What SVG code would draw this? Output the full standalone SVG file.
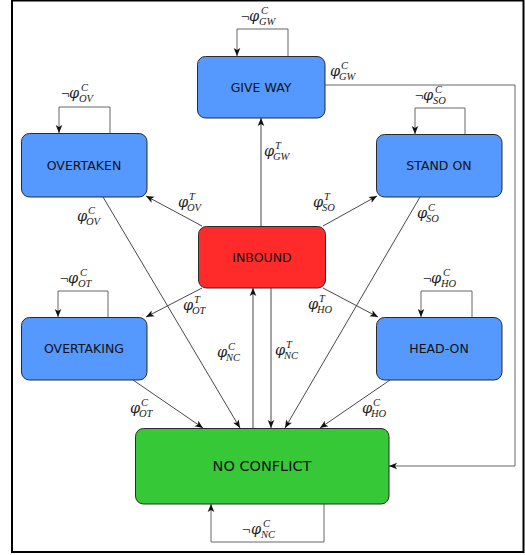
<svg xmlns="http://www.w3.org/2000/svg" width="525" height="555" viewBox="0 0 525 555">
  <defs>
    <marker id="arr" markerUnits="userSpaceOnUse" viewBox="-9 -5 10 10" markerWidth="10" markerHeight="10" refX="0" refY="0" orient="auto">
      <path d="M-8,-3.3 L0,0 L-8,3.3 L-6,0 Z" fill="#111"/>
    </marker>
    <style>
      .node rect { stroke: #2a2a2a; stroke-width: 1; }
      .blue { fill: #5599ff; }
      .red { fill: #ff2a2a; }
      .green { fill: #37c837; }
      .lbl { font-family: "DejaVu Sans", Verdana, sans-serif; font-size: 12.5px; fill: #111; text-anchor: middle; }
      .big { font-size: 14.5px; }
      .edge { fill: none; stroke: #333; stroke-width: 0.9; marker-end: url(#arr); }
      .loop { fill: none; stroke: #666; stroke-width: 1; marker-end: url(#arr); }
      .route { fill: none; stroke: #666; stroke-width: 1; marker-end: url(#arr); }
      .m { font-family: "Liberation Serif", "DejaVu Serif", serif; font-style: italic; font-size: 16px; fill: #222; }
      .phi { font-family: "DejaVu Serif", serif; font-size: 14.5px; }
      .s { font-size: 10.5px; }
      .neg { font-family: "Liberation Serif", serif; font-style: normal; font-size: 15px; }
    </style>
  </defs>

  <!-- frame -->
  <rect x="12" y="0.5" width="511.5" height="551.5" fill="#fff" stroke="#000" stroke-width="2"/>

  <g id="connectors">
    <!-- self loops -->
    <path class="loop" d="M288,56 V29 H237 V56"/>
    <path class="loop" d="M110,133 V107 H59 V133"/>
    <path class="loop" d="M465,134 V108 H415 V134"/>
    <path class="loop" d="M108,317 V291 H58 V317"/>
    <path class="loop" d="M472,317 V291 H421 V317"/>
    <path class="loop" d="M324,504 V542 H211 V504"/>
    <!-- give way back to no conflict -->
    <path class="route" d="M325,85 H515 V466 H389"/>
    <!-- transitions out of inbound -->
    <path class="edge" d="M261,226 V118"/>
    <path class="edge" d="M202,226 L146,196"/>
    <path class="edge" d="M323,226 L377,196"/>
    <path class="edge" d="M202,288 L146,317"/>
    <path class="edge" d="M323,288 L378,317"/>
    <path class="edge" d="M271,288 V428"/>
    <!-- transitions into no conflict -->
    <path class="edge" d="M103,197 L240,428"/>
    <path class="edge" d="M420,197 L285,428"/>
    <path class="edge" d="M133,380 L203,428"/>
    <path class="edge" d="M390,380 L320,428"/>
    <path class="edge" d="M253,428 V288"/>

    <!-- guard labels -->
    <text class="m" x="241" y="21"><tspan class="neg">¬</tspan><tspan class="phi" x="249">φ</tspan><tspan class="s" x="261" y="14">C</tspan><tspan class="s" x="259" y="25">GW</tspan></text>
    <text class="m" x="330" y="76"><tspan class="phi">φ</tspan><tspan class="s" x="341" y="69">C</tspan><tspan class="s" x="339" y="80">GW</tspan></text>
    <text class="m" x="61" y="98"><tspan class="neg">¬</tspan><tspan class="phi" x="69">φ</tspan><tspan class="s" x="81" y="91">C</tspan><tspan class="s" x="79" y="102">OV</tspan></text>
    <text class="m" x="415" y="100"><tspan class="neg">¬</tspan><tspan class="phi" x="423">φ</tspan><tspan class="s" x="435" y="93">C</tspan><tspan class="s" x="433" y="104">SO</tspan></text>
    <text class="m" x="264" y="156"><tspan class="phi">φ</tspan><tspan class="s" x="275" y="149">T</tspan><tspan class="s" x="273" y="160">GW</tspan></text>
    <text class="m" x="178" y="207"><tspan class="phi">φ</tspan><tspan class="s" x="189" y="200">T</tspan><tspan class="s" x="187" y="211">OV</tspan></text>
    <text class="m" x="313" y="207"><tspan class="phi">φ</tspan><tspan class="s" x="324" y="200">T</tspan><tspan class="s" x="322" y="211">SO</tspan></text>
    <text class="m" x="77" y="221"><tspan class="phi">φ</tspan><tspan class="s" x="88" y="214">C</tspan><tspan class="s" x="86" y="225">OV</tspan></text>
    <text class="m" x="417" y="218"><tspan class="phi">φ</tspan><tspan class="s" x="428" y="211">C</tspan><tspan class="s" x="426" y="222">SO</tspan></text>
    <text class="m" x="60" y="283"><tspan class="neg">¬</tspan><tspan class="phi" x="68">φ</tspan><tspan class="s" x="80" y="276">C</tspan><tspan class="s" x="78" y="287">OT</tspan></text>
    <text class="m" x="423" y="283"><tspan class="neg">¬</tspan><tspan class="phi" x="431">φ</tspan><tspan class="s" x="443" y="276">C</tspan><tspan class="s" x="441" y="287">HO</tspan></text>
    <text class="m" x="183" y="310"><tspan class="phi">φ</tspan><tspan class="s" x="194" y="303">T</tspan><tspan class="s" x="192" y="314">OT</tspan></text>
    <text class="m" x="308" y="309"><tspan class="phi">φ</tspan><tspan class="s" x="319" y="302">T</tspan><tspan class="s" x="317" y="313">HO</tspan></text>
    <text class="m" x="217" y="357"><tspan class="phi">φ</tspan><tspan class="s" x="228" y="350">C</tspan><tspan class="s" x="226" y="361">NC</tspan></text>
    <text class="m" x="275" y="355"><tspan class="phi">φ</tspan><tspan class="s" x="286" y="348">T</tspan><tspan class="s" x="284" y="359">NC</tspan></text>
    <text class="m" x="130" y="413"><tspan class="phi">φ</tspan><tspan class="s" x="141" y="406">C</tspan><tspan class="s" x="139" y="417">OT</tspan></text>
    <text class="m" x="362" y="413"><tspan class="phi">φ</tspan><tspan class="s" x="373" y="406">C</tspan><tspan class="s" x="371" y="417">HO</tspan></text>
    <text class="m" x="242" y="534"><tspan class="neg">¬</tspan><tspan class="phi" x="251">φ</tspan><tspan class="s" x="263" y="527">C</tspan><tspan class="s" x="261" y="538">NC</tspan></text>
  </g>

  <g id="give-way" class="node">
    <rect class="blue" x="197.5" y="56.5" width="127.5" height="61.5" rx="8"/>
    <text class="lbl" x="261" y="92">GIVE WAY</text>
  </g>
  <g id="overtaken" class="node">
    <rect class="blue" x="21.5" y="133.5" width="125.5" height="63.5" rx="8"/>
    <text class="lbl" x="84" y="170">OVERTAKEN</text>
  </g>
  <g id="stand-on" class="node">
    <rect class="blue" x="376.5" y="134.5" width="125.5" height="62.5" rx="8"/>
    <text class="lbl" x="439" y="170">STAND ON</text>
  </g>
  <g id="inbound" class="node">
    <rect class="red" x="198.5" y="226.5" width="127" height="61.5" rx="8"/>
    <text class="lbl" x="262" y="262">INBOUND</text>
  </g>
  <g id="overtaking" class="node">
    <rect class="blue" x="21.5" y="317.5" width="125.5" height="62.5" rx="8"/>
    <text class="lbl" x="84" y="353">OVERTAKING</text>
  </g>
  <g id="head-on" class="node">
    <rect class="blue" x="376.5" y="317.5" width="125.5" height="62.5" rx="8"/>
    <text class="lbl" x="439" y="353">HEAD-ON</text>
  </g>
  <g id="no-conflict" class="node">
    <rect class="green" x="135.5" y="428.5" width="253.5" height="75.5" rx="8"/>
    <text class="lbl big" x="262" y="471">NO CONFLICT</text>
  </g>
</svg>
